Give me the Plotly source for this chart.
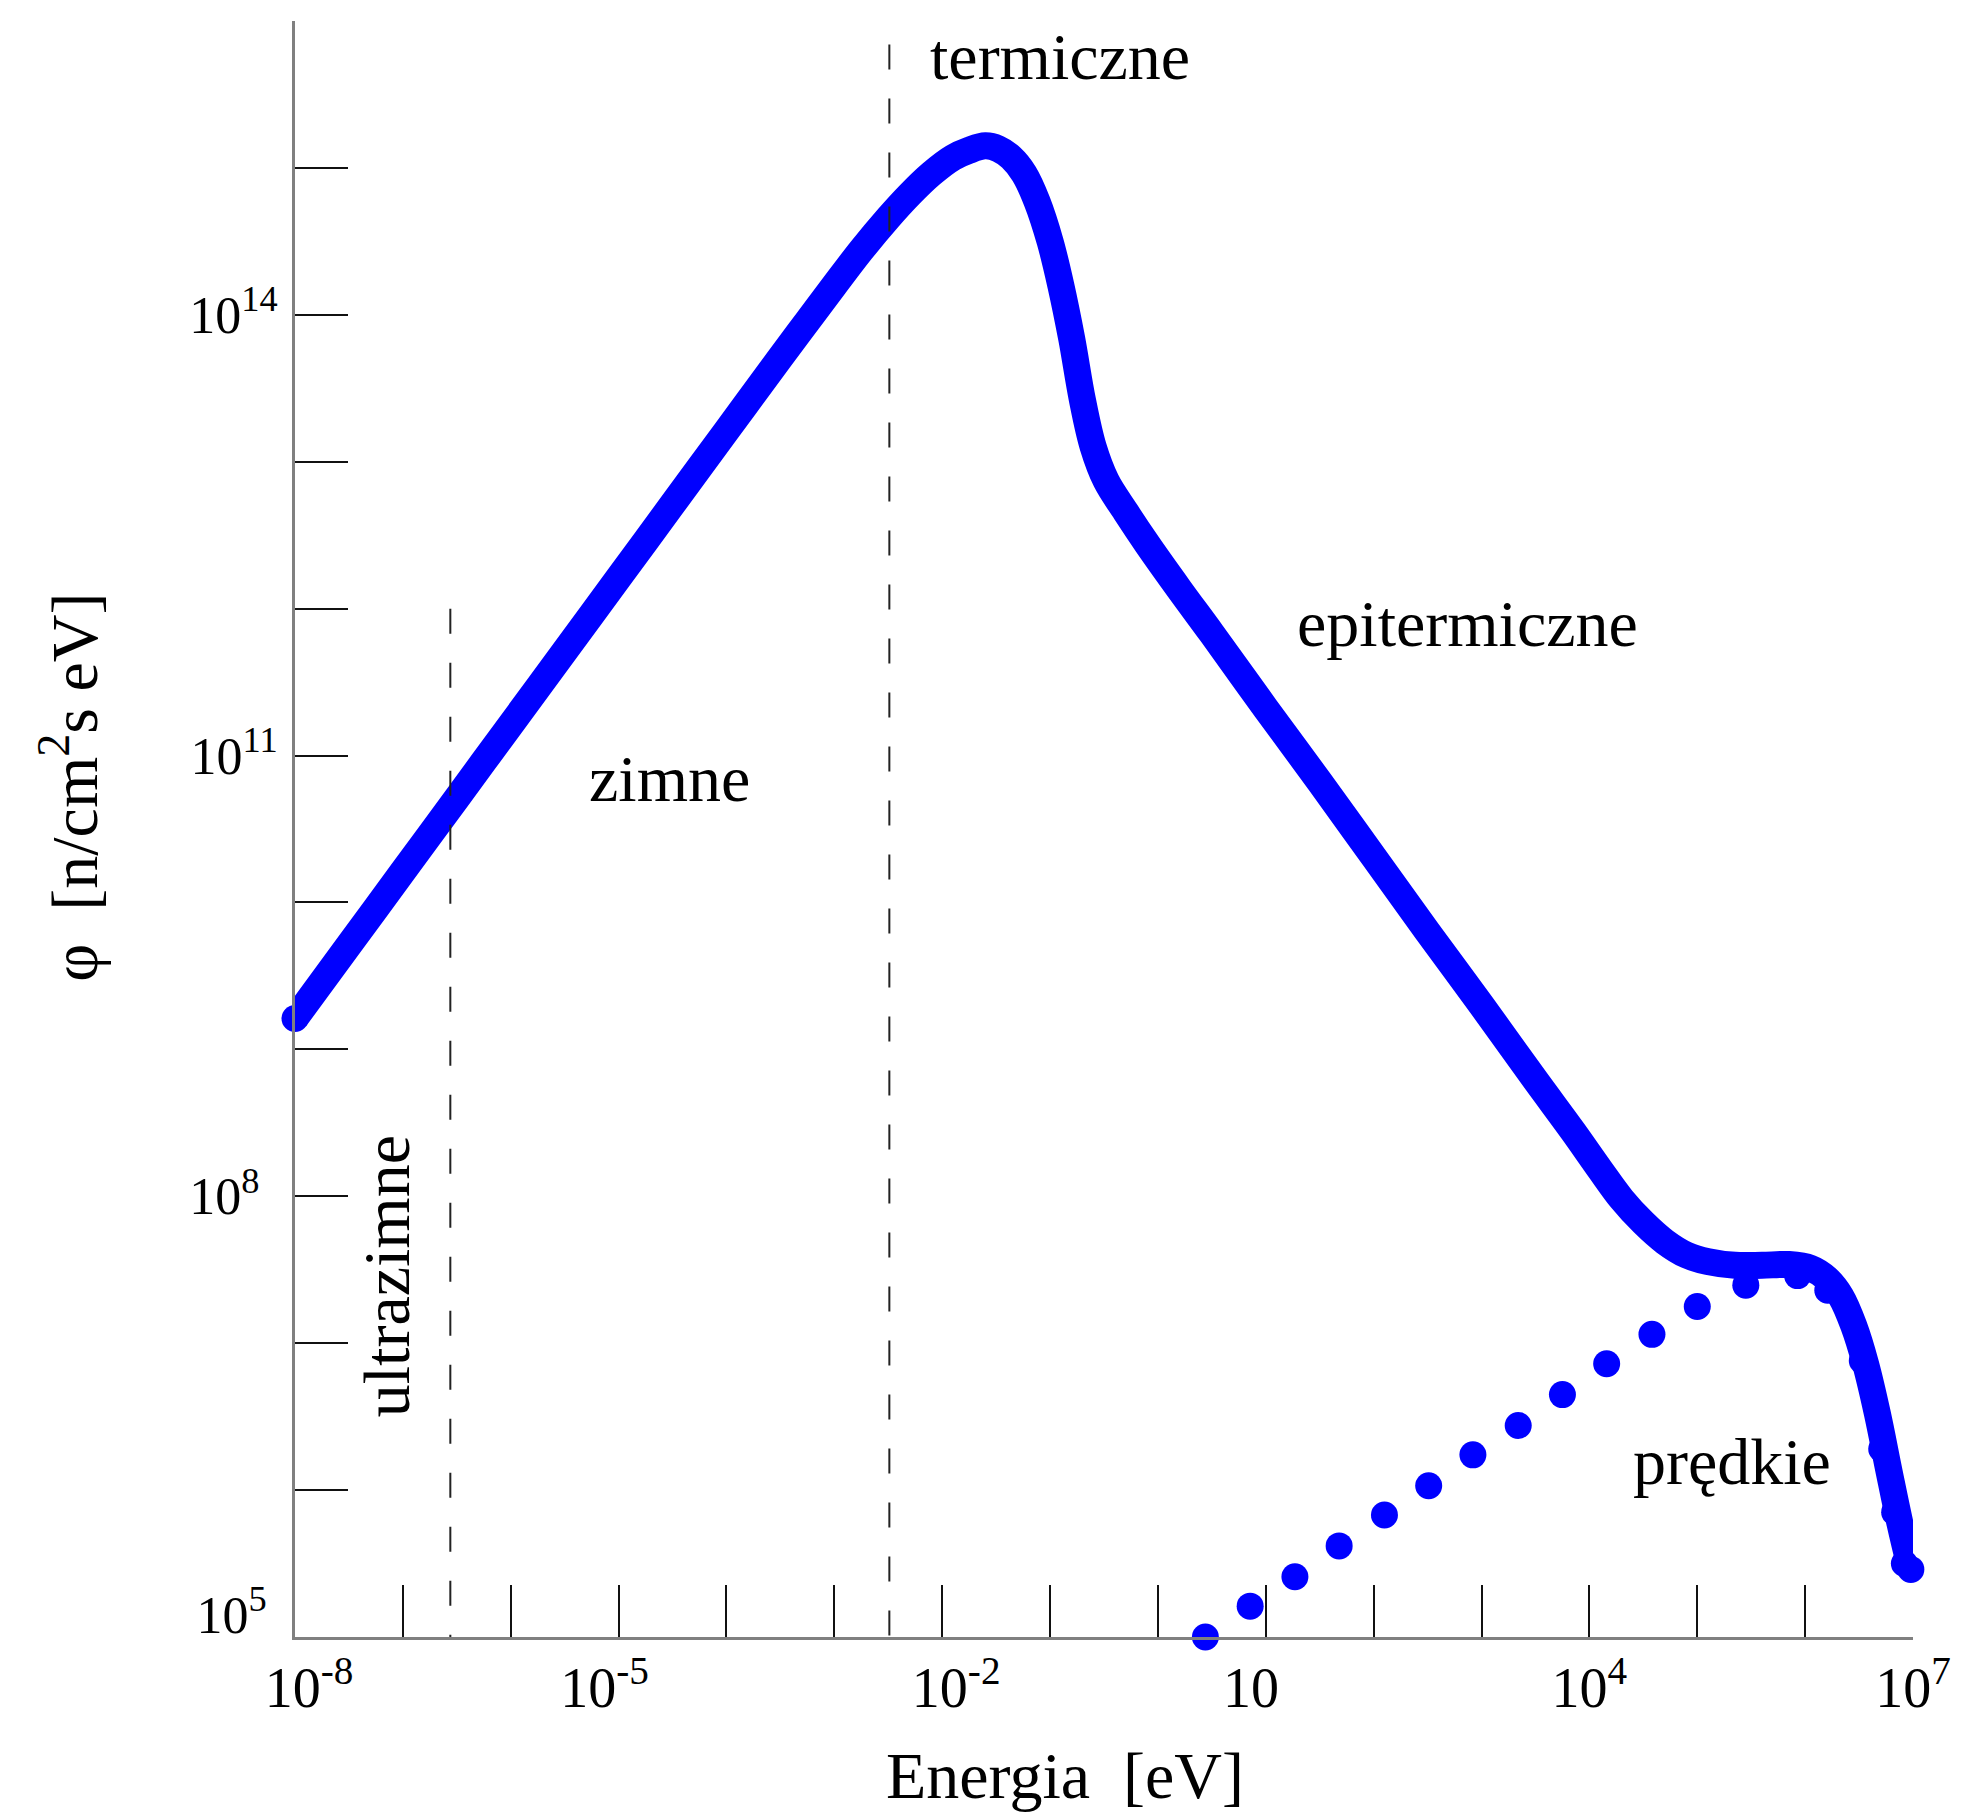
import plotly.graph_objects as go

# ---------------- data (log10 units) ----------------
# main neutron-flux spectrum (thick line)
curve_log_energy = [-8.0, -7.5, -7.0, -6.5, -6.0, -5.5, -5.0, -4.5, -4.0, -3.5, -3.25, -3.0,
                    -2.75, -2.5, -2.3, -2.1, -1.9, -1.75, -1.6, -1.48, -1.36, -1.24,
                    -1.12, -1.0, -0.9, -0.8, -0.7, -0.6, -0.48, -0.3, -0.1, 0.2, 0.5,
                    1.0, 1.5, 2.0, 2.5, 3.0, 3.5, 3.85, 4.1, 4.3, 4.5, 4.7, 4.9, 5.1,
                    5.35, 5.6, 5.85, 6.05, 6.2, 6.33, 6.45, 6.56, 6.67, 6.78, 6.88, 6.98]
curve_log_flux = [9.21, 9.71, 10.21, 10.71, 11.21, 11.71, 12.21, 12.71, 13.21, 13.71, 13.955, 14.20,
                  14.44, 14.66, 14.82, 14.96, 15.07, 15.12, 15.15, 15.13, 15.07, 14.96,
                  14.77, 14.50, 14.20, 13.84, 13.42, 13.10, 12.87, 12.66, 12.44, 12.13, 11.83,
                  11.32, 10.82, 10.31, 9.80, 9.30, 8.79, 8.44, 8.18, 7.98, 7.82, 7.69, 7.60, 7.555,
                  7.53, 7.53, 7.535, 7.51, 7.44, 7.32, 7.12, 6.86, 6.52, 6.12, 5.77, 5.46]

# dotted (fast / fission) series
dots_log_energy = [0.44, 0.855, 1.27, 1.68, 2.10, 2.51, 2.92, 3.34, 3.75, 4.16, 4.58,
                   5.00, 5.45, 5.93, 6.21, 6.53, 6.71, 6.83, 6.92]
dots_log_flux = [5.00, 5.21, 5.41, 5.62, 5.83, 6.03, 6.24, 6.44, 6.65, 6.86, 7.06,
                 7.25, 7.395, 7.46, 7.36, 6.88, 6.28, 5.85, 5.50]

# dashed region boundaries
ultracold_boundary_log_energy = -6.56
ultracold_line_log_flux = [12.0, 5.0]
thermal_boundary_log_energy = -2.49
thermal_line_log_flux = [15.84, 5.0]

# axes
NB = "\u00a0"
x_tick_exponents = list(range(-8, 8))
x_tick_labels = {-8: NB * 2 + "10<sup>-8</sup>",
                 -5: "10<sup>-5</sup>" + NB * 2,
                 -2: NB * 2 + "10<sup>-2</sup>",
                 1: "10<sup>" + NB * 3 + "</sup>",
                 4: "10<sup>4</sup>",
                 7: "10<sup>7</sup>"}
y_tick_exponents = list(range(5, 17))
y_tick_labels = {8: "10<sup>8" + NB * 2 + "</sup>",
                 11: "10<sup>11</sup>",
                 14: "10<sup>14</sup>"}
y_bottom_label_exponent = 5
y_bottom_label = "10<sup>5" + NB * 2 + "</sup>"

# region labels (log10 positions)
region_names = ["ultrazimne", "zimne", "termiczne", "epitermiczne", "prędkie"]
region_log_x = [-7.156, -4.531, -0.904, 2.867, 5.321]
region_log_y = [7.456, 10.844, 15.755, 11.898, 6.197]
region_angle = [-90, 0, 0, 0, 0]

x_title = "Energia" + NB + " [eV]"
y_title = "φ" + NB + " [n/cm<sup>2</sup>s eV]"

# ---------------------------------------------------------------------------
FONT = "Liberation Serif, Times New Roman, serif"
BLUE = "#0000FF"
W, H = 1980, 1805          # page body has an 8 px default margin
ML, MR, MT, MB = 287, 75, 13, 176
PW = W - ML - MR
PH = H - MT - MB


def p10(vals):
    return [10 ** v for v in vals]


fig = go.Figure()

fig.add_trace(go.Scatter(
    x=p10(curve_log_energy), y=p10(curve_log_flux),
    mode="lines",
    line=dict(color=BLUE, width=27, shape="spline", smoothing=1.0),
    cliponaxis=False, showlegend=False, hoverinfo="skip"))

# round caps at both ends of the thick curve
fig.add_trace(go.Scatter(
    x=p10([curve_log_energy[0], curve_log_energy[-1]]),
    y=p10([curve_log_flux[0], curve_log_flux[-1]]),
    mode="markers",
    marker=dict(color=BLUE, size=27, opacity=1, line=dict(width=0)),
    cliponaxis=False, showlegend=False, hoverinfo="skip"))

fig.add_trace(go.Scatter(
    x=p10(dots_log_energy), y=p10(dots_log_flux),
    mode="markers",
    marker=dict(color=BLUE, size=27, opacity=1, line=dict(width=0)),
    cliponaxis=False, showlegend=False, hoverinfo="skip"))

for xe, ys in [(ultracold_boundary_log_energy, ultracold_line_log_flux),
               (thermal_boundary_log_energy, thermal_line_log_flux)]:
    fig.add_trace(go.Scatter(
        x=p10([xe, xe]), y=p10(ys), mode="lines",
        line=dict(color="#222222", width=2, dash="25px,29px"),
        cliponaxis=False, showlegend=False, hoverinfo="skip"))

# helper trace for the overlaying axis carrying the shifted bottom label
fig.add_trace(go.Scatter(x=[], y=[], yaxis="y2", showlegend=False, hoverinfo="skip"))

for name, lx, ly, ang in zip(region_names, region_log_x, region_log_y, region_angle):
    fig.add_annotation(x=lx, y=ly, xref="x", yref="y", text=name, showarrow=False,
                       textangle=ang, xanchor="center", yanchor="middle",
                       font=dict(family=FONT, size=66, color="black"))

fig.add_annotation(x=(1057 - ML) / PW, y=-0.0854, xref="paper", yref="paper",
                   text=x_title, showarrow=False, xanchor="center", yanchor="middle",
                   font=dict(family=FONT, size=66, color="black"))
fig.add_annotation(x=(62 - ML) / PW, y=0.5255, xref="paper", yref="paper",
                   text=y_title, showarrow=False, textangle=-90,
                   xanchor="center", yanchor="middle",
                   font=dict(family=FONT, size=66, color="black"))

fig.update_layout(
    xaxis=dict(
        type="log", range=[-8, 7],
        tickmode="array",
        tickvals=p10(x_tick_exponents),
        ticktext=[x_tick_labels.get(k, "") for k in x_tick_exponents],
        ticks="inside", ticklen=52, tickwidth=1.8, tickcolor="#111111",
        showline=True, linecolor="#808080", linewidth=3,
        showgrid=False, zeroline=False,
        tickfont=dict(family=FONT, size=56, color="black")),
    yaxis=dict(
        type="log", range=[5, 16],
        tickmode="array",
        tickvals=p10(y_tick_exponents),
        ticktext=[y_tick_labels.get(k, "") for k in y_tick_exponents],
        ticks="inside", ticklen=53, tickwidth=1.8, tickcolor="#111111",
        ticklabelstandoff=4,
        showline=True, linecolor="#808080", linewidth=3,
        showgrid=False, zeroline=False,
        tickfont=dict(family=FONT, size=52, color="black")),
    yaxis2=dict(
        type="log", range=[5, 16], overlaying="y", side="left", anchor="x",
        tickmode="array",
        tickvals=p10([y_bottom_label_exponent]),
        ticktext=[y_bottom_label],
        ticklabelshift=-22, ticklabelstandoff=9,
        ticks="", showline=False, showgrid=False, zeroline=False,
        tickfont=dict(family=FONT, size=52, color="black")),
    width=W, height=H, autosize=False,
    margin=dict(l=ML, r=MR, t=MT, b=MB),
    paper_bgcolor="white", plot_bgcolor="white",
    showlegend=False)

fig.write_html("out.html")
